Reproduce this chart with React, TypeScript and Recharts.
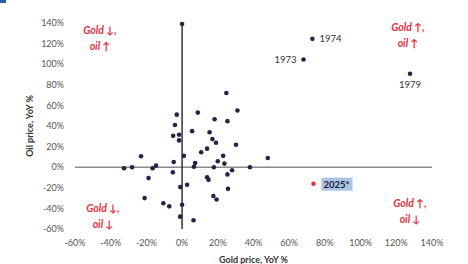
import React from 'react'
import {
  ScatterChart,
  Scatter,
  XAxis,
  YAxis,
  ReferenceLine,
  LabelList,
  Label,
} from 'recharts'

// gold YoY % (x) vs oil YoY % (y), unlabelled years
const goldYoY = [
  -3, 8.8, -4, 5.6, -5, -1.7, -1.7, 15.4, 10.7, 14, -23, 1, -32.5, -28, -16.5, -14.6, -4.7,
  -5.2, 6.6, 7.3, -18.8, -1, 2.8, -21, -10.5, -7.2, 0, -1.1, 6.4, 14, 14.8, 24.8, 31, 18.2,
  25.4, 17, 19, 30.2, 23, 48, 20, 23.7, 17.8, 38, 28, 25.4, 25.7, 17.5, 19.3, 0,
]
const oilYoY = [
  51, 53, 41, 35, 30.5, 31.5, 26, 34, 14.5, 18, 10.6, 11, -1, 0, -1, 1.5, 5, -5, 0.5, 4,
  -10.6, -19.3, -17, -30, -35, -38, -36.4, -48, -51.5, -9.7, -12.3, 72, 55, 46.6, 44.7, 27.3,
  23.7, 21.8, 11, 9, 5.8, 3.5, 0, 0, -3, -7, -21, -28, -31.3, 139,
]

// labelled years
const yearNames = ['1973', '1974', '1979']
const yearGold = [68, 73, 127.7]
const yearOil = [104.5, 124.6, 90.7]

const latestName = '2025*'
const latestGold = 73.6
const latestOil = -16

const ticks = [-60, -40, -20, 0, 20, 40, 60, 80, 100, 120, 140]

const cluster = goldYoY.map((x, i) => ({ x, y: oilYoY[i] }))
const years = yearNames.map((name, i) => ({ x: yearGold[i], y: yearOil[i], name }))
const latest = [{ x: latestGold, y: latestOil, name: latestName }]

const font = 'Lato, "Open Sans", sans-serif'
const red = '#e2323d'

const dot = (fill: string) => (p: any) => <circle cx={p.cx} cy={p.cy} r={2.3} fill={fill} />

const yearLabel = (p: any) => {
  const { x, y, value } = p
  const cx = x + (p.width || 0) / 2
  const cy = y + (p.height || 0) / 2
  let tx = cx + 7
  let ty = cy + 3
  let anchor = 'start'
  if (value === '1973') {
    tx = cx - 7
    anchor = 'end'
  }
  if (value === '1979') {
    tx = cx
    ty = cy + 14
    anchor = 'middle'
  }
  return (
    <text x={tx} y={ty} textAnchor={anchor} fontSize={9.5} fill="#333" fontFamily={font}>
      {value}
    </text>
  )
}

const latestLabel = (p: any) => {
  const cx = p.x + (p.width || 0) / 2
  const cy = p.y + (p.height || 0) / 2
  return (
    <g>
      <rect x={cx + 8} y={cy - 6} width={31} height={13} fill="#a9c5e3" />
      <text x={cx + 10} y={cy + 4} fontSize={9.5} fontWeight="bold" fill="#1b1f3a" fontFamily={font}>
        {p.value}
      </text>
    </g>
  )
}

const quad: React.CSSProperties = {
  position: 'absolute',
  color: red,
  fontFamily: font,
  fontStyle: 'italic',
  fontWeight: 'bold',
  fontSize: 10.5,
  lineHeight: '16px',
  textAlign: 'center',
  width: 60,
}

export default function App() {
  return (
    <div style={{ position: 'absolute', left: 0, top: 0, width: 468, height: 264, background: '#fff' }}>
      <div style={{ position: 'absolute', left: 0, top: 0, width: 6, height: 3, background: '#2d5fa8' }} />
      <ScatterChart width={468} height={264} margin={{ top: 23, right: 36, bottom: 0, left: 0 }}>
        <XAxis
          type="number"
          dataKey="x"
          domain={[-60, 140]}
          ticks={ticks}
          tickFormatter={(v) => `${v}%`}
          axisLine={false}
          tickLine={false}
          tickMargin={5}
          height={35}
          tick={{ fontSize: 9, fill: '#555', fontFamily: font }}
        >
          <Label
            value="Gold price, YoY %"
            position="insideBottom"
            offset={1}
            style={{ fontSize: 9, fontWeight: 'bold', fill: '#333', fontFamily: font }}
          />
        </XAxis>
        <YAxis
          type="number"
          dataKey="y"
          domain={[-60, 140]}
          ticks={ticks}
          tickFormatter={(v) => `${v}%`}
          axisLine={false}
          tickLine={false}
          tickMargin={5}
          width={75}
          tick={{ fontSize: 9, fill: '#555', fontFamily: font }}
        >
          <Label
            value="Oil price, YoY %"
            angle={-90}
            position="insideLeft"
            offset={30}
            style={{ fontSize: 9, fontWeight: 'bold', fill: '#333', fontFamily: font, textAnchor: 'middle' }}
          />
        </YAxis>
        <ReferenceLine y={0} stroke="#8a8a8a" strokeWidth={1.5} />
        <ReferenceLine x={0} stroke="#333" strokeWidth={1.5} />
        <Scatter data={cluster} fill="#1d2747" shape={dot('#1d2747')} isAnimationActive={false} />
        <Scatter data={years} fill="#1d2747" shape={dot('#1d2747')} isAnimationActive={false}>
          <LabelList dataKey="name" content={yearLabel} />
        </Scatter>
        <Scatter data={latest} fill={red} shape={dot(red)} isAnimationActive={false}>
          <LabelList dataKey="name" content={latestLabel} />
        </Scatter>
      </ScatterChart>
      <div style={{ ...quad, left: 70, top: 22 }}>Gold ↓,<br />oil ↑</div>
      <div style={{ ...quad, left: 378, top: 19 }}>Gold ↑,<br />oil ↑</div>
      <div style={{ ...quad, left: 73, top: 200 }}>Gold ↓,<br />oil ↓</div>
      <div style={{ ...quad, left: 380, top: 195 }}>Gold ↑,<br />oil ↓</div>
    </div>
  )
}
